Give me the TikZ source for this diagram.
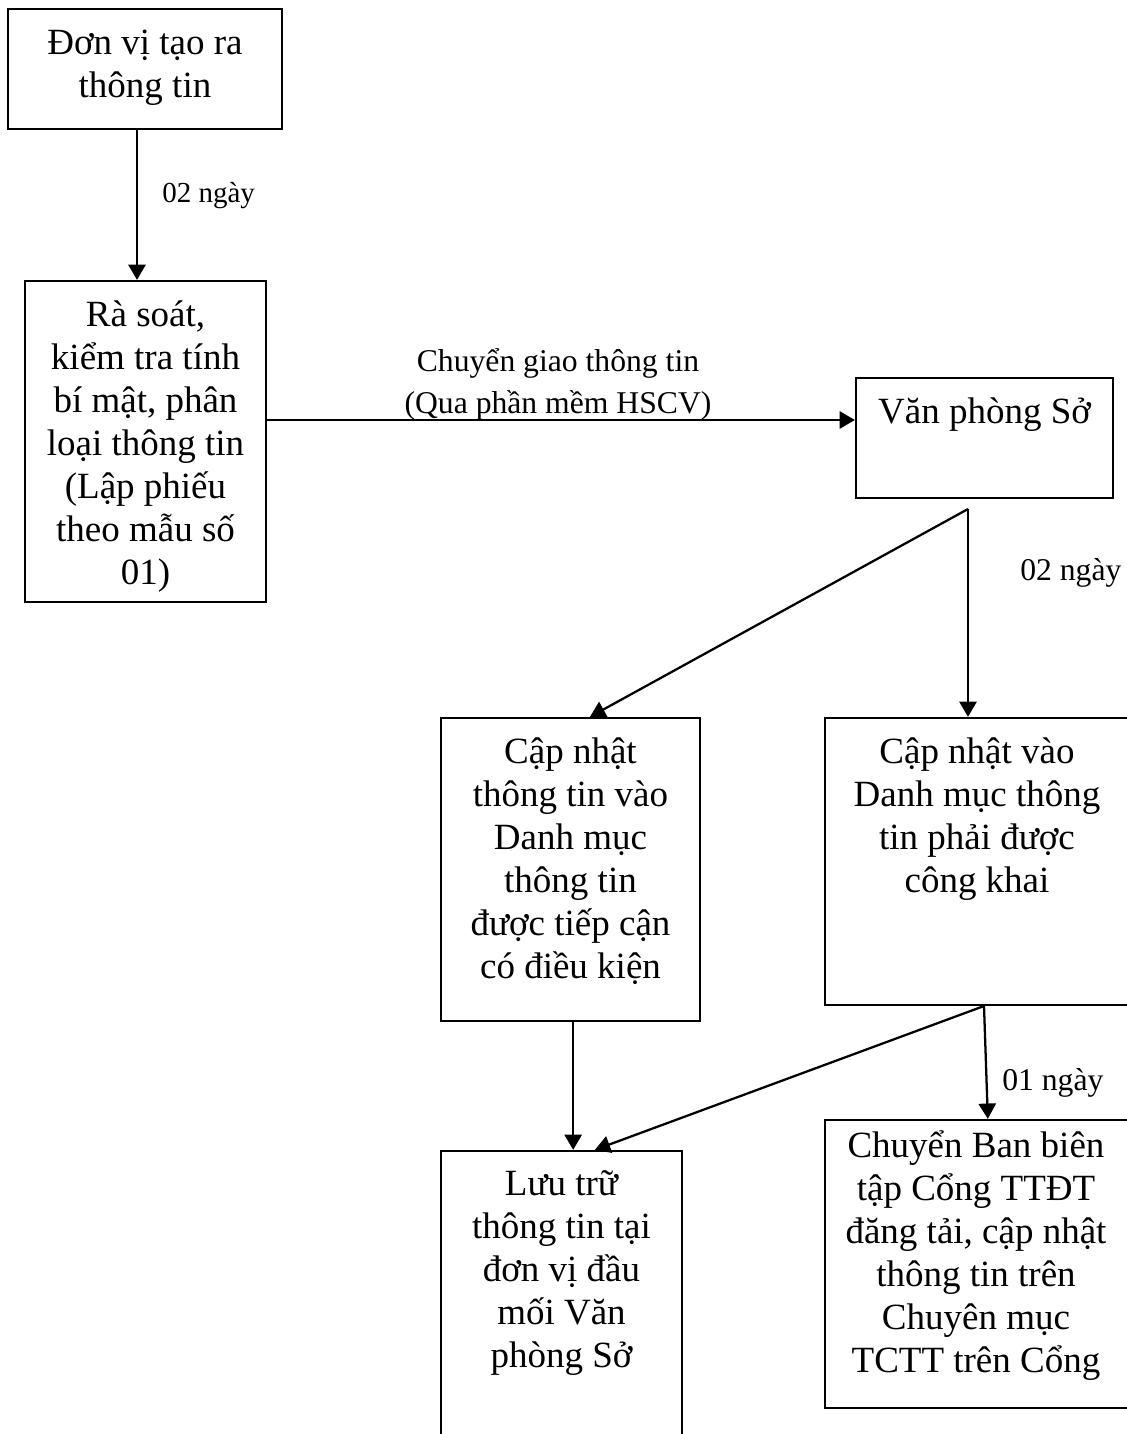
\documentclass[tikz,border=0pt]{standalone}
\usepackage{fontspec}
\setmainfont{Liberation Serif}
\usetikzlibrary{arrows.meta,fit}
\newcommand\fs{\rule{0pt}{30pt}}
\newcommand\ls{\rule{0pt}{26pt}}
\begin{document}
\begin{tikzpicture}[x=0.75pt,y=-0.75pt,
  box/.style={draw, line width=1.7pt, inner sep=0pt},
  txt/.style={inner sep=0pt, align=center, anchor=north, font=\fontsize{27.75pt}{32.25pt}\selectfont},
  lbl/.style={inner sep=0pt, font=\fontsize{23.75pt}{31.5pt}\selectfont},
  small/.style={inner sep=0pt, anchor=base west, font=\fontsize{21.75pt}{26pt}\selectfont},
  arr/.style={line width=1.7pt, -{Triangle[width=13pt,length=11.5pt]}}]
\useasboundingbox (0,0) rectangle (1127,1434);

% boxes
\node[box, fit={(8,9) (282,129)}] (A) {};
\node[box, fit={(25,281) (266,602)}] (B) {};
\node[box, fit={(856,378) (1113,498)}] (C) {};
\node[box, fit={(441,718) (700,1021)}] (D) {};
\node[box, fit={(825,718) (1132,1005)}] (E) {};
\node[box, fit={(441,1151) (682,1450)}] (F) {};
\node[box, fit={(825,1120) (1132,1408)}] (G) {};

% texts
\node[txt] (At) at (145,14) {\fs Đơn vị tạo ra\\thông tin};
\node[txt] (Bt) at (145.5,286) {\fs Rà soát,\\kiểm tra tính\\bí mật, phân\\loại thông tin\\(Lập phiếu\\theo mẫu số\\01)};
\node[txt] (Ct) at (984.5,383) {\fs Văn phòng Sở};
\node[txt] (Dt) at (570.5,723) {\fs Cập nhật\\thông tin vào\\Danh mục\\thông tin\\được tiếp cận\\có điều kiện};
\node[txt] (Et) at (977,723) {\fs Cập nhật vào\\Danh mục thông\\tin phải được\\công khai};
\node[txt] (Ft) at (561.5,1155) {\fs Lưu trữ\\thông tin tại\\đơn vị đầu\\mối Văn\\phòng Sở};
\node[txt] (Gt) at (976,1117) {\fs Chuyển Ban biên\\tập Cổng TTĐT\\đăng tải, cập nhật\\thông tin trên\\Chuyên mục\\TCTT trên Cổng};

% labels
\node[small] (L0) at (162,202) {02 ngày};
\node[lbl, align=center, anchor=north] (L1) at (558,337) {\ls Chuyển giao thông tin\\(Qua phần mềm HSCV)};
\node[lbl, anchor=base west] (L2) at (1020,580) {02 ngày};
\node[lbl, anchor=base west] (L3) at (1002,1090) {01 ngày};

% connectors
\coordinate (h) at (0,420);
\coordinate (s1) at (968,509);
\coordinate (s2) at (984,1006);

\draw[arr] ([xshift=-6pt]A.south) -- ([xshift=-6pt]A.south |- B.north);
\draw[arr] (B.east |- h) -- (C.west |- h);
\draw[arr] (s1) -- ([xshift=14.6pt]D.north);
\draw[arr] (s1) -- (s1 |- E.north);
\draw[arr] ([xshift=2pt]D.south) -- ([xshift=2pt]D.south |- F.north);
\draw[arr] (s2) -- ([xshift=25pt]F.north);
\draw[arr] (s2) -- ([xshift=7pt]G.north);
\end{tikzpicture}
\end{document}
